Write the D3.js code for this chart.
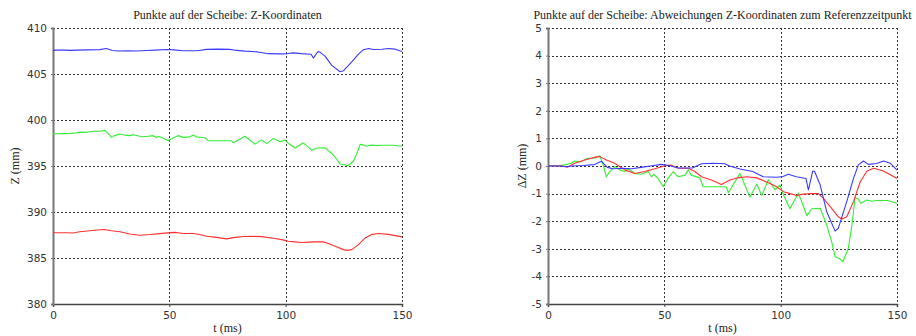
<!DOCTYPE html>
<html>
<head>
<meta charset="utf-8">
<script src="https://cdn.jsdelivr.net/npm/d3@7"></script>
<style>
  html, body { margin: 0; padding: 0; background: #fff; }
  svg { display: block; }
  .title, .axis-title { font-family: "Liberation Serif", "DejaVu Serif", serif; font-size: 12px; fill: #222; }
  .tick text { font-family: "DejaVu Sans", sans-serif; font-size: 10.5px; fill: #333; }
</style>
</head>
<body>
<svg id="chart" width="916" height="336"></svg>
<script>
// Time axis ticks (ms)
const timeTicks = [0, 50, 100, 150];
const zTicks = [380, 385, 390, 395, 400, 405, 410];
const dzTicks = [-5, -4, -3, -2, -1, 0, 1, 2, 3, 4, 5];

// Z at the reference time (t = 0), mm
const z0Blue = 407.6;
const z0Green = 398.5;
const z0Red = 387.75;

// Deviation from the reference time, mm — blue point
const tBlue  = [0, 5, 8, 10, 15, 20, 23, 25.5, 28, 32, 36, 40, 44, 48.8, 52, 56, 62, 66, 71, 76, 78, 82.5, 88, 92.5, 98.3, 101, 103.3, 106.7, 110.9, 111.9, 113.8, 114.6, 117, 119.8, 123.4, 124.8, 128.4, 131.3, 133.4, 135.6, 137.7, 141.3, 144.2, 147.1, 150];
const dzBlue = [0, 0, -0.03, 0, 0.02, 0.05, 0.17, -0.05, -0.1, -0.08, -0.1, -0.05, 0, 0.06, 0.02, -0.07, -0.07, 0.08, 0.1, 0.08, 0, -0.11, -0.2, -0.39, -0.41, -0.38, -0.3, -0.39, -0.45, -0.87, -0.18, -0.2, -0.69, -1.66, -2.36, -2.25, -1.29, -0.45, 0.04, 0.18, 0.06, 0.09, 0.18, 0.1, -0.15];

// Deviation from the reference time, mm — red point
const tRed  = [0, 6, 8.5, 11.5, 15.8, 20.1, 22.3, 25.1, 28.7, 33, 37.3, 41.6, 45.9, 50.2, 53, 56, 60.3, 63.1, 66, 70.3, 74.5, 78.2, 82, 85.4, 89.7, 95.4, 98.3, 101.2, 104, 106.9, 109.8, 112.6, 116.2, 118.4, 121.3, 124.8, 126.3, 128.4, 131.3, 134.2, 137.1, 140, 144.2, 150];
const dzRed = [0, 0, -0.04, 0.1, 0.22, 0.32, 0.34, 0.22, 0.1, -0.14, -0.27, -0.2, -0.1, 0.01, 0.03, -0.08, -0.08, -0.2, -0.39, -0.51, -0.67, -0.51, -0.42, -0.39, -0.43, -0.63, -0.75, -0.93, -1.0, -1.07, -1.02, -1.0, -1.0, -1.17, -1.47, -1.84, -1.92, -1.84, -1.29, -0.57, -0.18, -0.08, -0.18, -0.45];

// Deviation from the reference time, mm — green point
const tGreen  = [0, 5, 7.2, 10, 11.5, 14, 17.2, 20, 22.3, 23.7, 25.1, 26.5, 28.7, 30.8, 33, 34.5, 37.3, 40.2, 43, 44.5, 45.5, 47.3, 49.5, 51.6, 53.8, 56, 58.9, 60.3, 61.5, 65.3, 66.7, 75.3, 76.7, 77.5, 82.5, 86.8, 89.7, 91.9, 94.7, 97.6, 99.7, 101.2, 104, 107.6, 111.3, 113.4, 117, 119.8, 121.9, 123.4, 125.5, 126.7, 129.1, 130.6, 132, 133.3, 134.5, 137.1, 139, 141.3, 146, 150];
const dzGreen = [0, 0.02, 0.04, 0.1, 0.18, 0.15, 0.28, 0.28, 0.37, 0.04, -0.39, -0.2, -0.02, -0.14, -0.2, -0.1, -0.27, -0.3, -0.2, -0.39, -0.3, -0.45, -0.75, -0.45, -0.2, -0.39, -0.33, -0.14, -0.33, -0.43, -0.75, -0.75, -0.76, -0.97, -0.27, -1.12, -0.66, -1.07, -0.5, -0.86, -0.69, -1.05, -1.55, -0.98, -1.8, -1.55, -1.53, -2.14, -2.74, -3.29, -3.37, -3.47, -2.98, -2.14, -1.15, -1.2, -1.35, -1.23, -1.28, -1.25, -1.25, -1.35];

const colBlue = "#3a3aff", colRed = "#ff3030", colGreen = "#33ee33";

const svg = d3.select("#chart");
svg.append("rect").attr("width", 916).attr("height", 336).attr("fill", "#fff");

function pairs(ts, vs, offset) {
  return ts.map((t, i) => ({ t, v: vs[i] + offset }));
}

function drawPanel(opt) {
  const x = d3.scaleLinear().domain([0, 150]).range([opt.x0, opt.x1]);
  const y = d3.scaleLinear().domain(opt.yDomain).range([opt.y1, opt.y0]);
  const g = svg.append("g");

  // dotted grid
  const grid = g.append("g").attr("stroke", "#333").attr("stroke-width", 1)
    .attr("stroke-dasharray", "2,2").attr("fill", "none");
  grid.selectAll("line.v").data(timeTicks.filter(d => d > 0)).join("line")
    .attr("x1", d => Math.round(x(d)) + 0.5).attr("x2", d => Math.round(x(d)) + 0.5)
    .attr("y1", opt.y0).attr("y2", opt.y1);
  grid.selectAll("line.h").data(opt.yTicks.filter(d => d > opt.yDomain[0])).join("line")
    .attr("x1", opt.x0).attr("x2", opt.x1)
    .attr("y1", d => Math.round(y(d)) + 0.5).attr("y2", d => Math.round(y(d)) + 0.5);

  // axes
  const xAxis = g.append("g").attr("transform", `translate(0,${opt.y1})`)
    .call(d3.axisBottom(x).tickValues(timeTicks).tickSize(3).tickPadding(5).tickFormat(d => String(d)));
  xAxis.select(".domain").attr("stroke", "#444").attr("stroke-width", 1.5);
  xAxis.selectAll(".tick line").attr("stroke", "#444");

  const yAxis = g.append("g").attr("transform", `translate(${opt.x0},0)`)
    .call(d3.axisLeft(y).tickValues(opt.yTicks).tickSize(2).tickPadding(4).tickFormat(d => String(d)));
  yAxis.select(".domain").attr("stroke", "#777").attr("stroke-width", 2);
  yAxis.selectAll(".tick line").attr("stroke", "#777");

  // titles
  g.append("text").attr("class", "title").attr("x", (opt.x0 + opt.x1) / 2).attr("y", 19)
    .attr("text-anchor", "middle").text(opt.title);
  g.append("text").attr("class", "axis-title").attr("x", (opt.x0 + opt.x1) / 2).attr("y", 332)
    .attr("text-anchor", "middle").text("t (ms)");
  g.append("text").attr("class", "axis-title")
    .attr("transform", `translate(${opt.yTitleX},${(opt.y0 + opt.y1) / 2}) rotate(-90)`)
    .attr("text-anchor", "middle").text(opt.yTitle);

  // series
  const line = d3.line().x(d => x(d.t)).y(d => y(d.v));
  opt.series.forEach(s => {
    g.append("path").datum(s.data).attr("fill", "none").attr("stroke", s.color)
      .attr("stroke-width", 1.1).attr("stroke-linejoin", "round").attr("d", line);
  });
}

drawPanel({
  x0: 53, x1: 402, y0: 28, y1: 304,
  yDomain: [380, 410], yTicks: zTicks,
  title: "Punkte auf der Scheibe: Z-Koordinaten",
  yTitle: "Z (mm)", yTitleX: 19,
  series: [
    { color: colBlue,  data: pairs(tBlue, dzBlue, z0Blue) },
    { color: colGreen, data: pairs(tGreen, dzGreen, z0Green) },
    { color: colRed,   data: pairs(tRed, dzRed, z0Red) }
  ]
});

drawPanel({
  x0: 548, x1: 897, y0: 28, y1: 304,
  yDomain: [-5, 5], yTicks: dzTicks,
  title: "Punkte auf der Scheibe: Abweichungen Z-Koordinaten zum Referenzzeitpunkt",
  yTitle: "ΔZ (mm)", yTitleX: 526,
  series: [
    { color: colGreen, data: pairs(tGreen, dzGreen, 0) },
    { color: colRed,   data: pairs(tRed, dzRed, 0) },
    { color: colBlue,  data: pairs(tBlue, dzBlue, 0) }
  ]
});
</script>
</body>
</html>
